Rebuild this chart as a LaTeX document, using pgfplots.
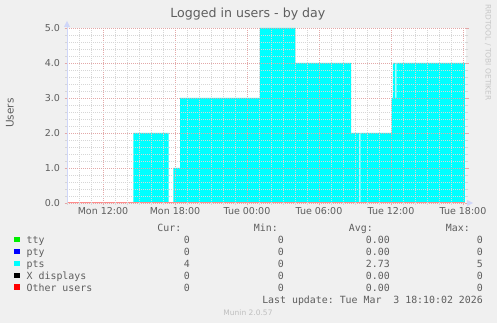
\documentclass[border=0pt]{standalone}
\usepackage{pgfplots}
\pgfplotsset{compat=1.18}
\usepackage{fontspec}
\setmainfont{DejaVu Sans}
\setmonofont{DejaVu Sans Mono}
\definecolor{bg}{HTML}{F0F0F0}
\definecolor{txt}{HTML}{5E5E5E}
\definecolor{majgrid}{HTML}{E3A8A8}
\definecolor{mingrid}{HTML}{D6D6D6}
\definecolor{axblue}{HTML}{CFD6F8}
\definecolor{ctty}{HTML}{00EE00}
\definecolor{cpty}{HTML}{0000FF}
\definecolor{cpts}{HTML}{00FFFF}
\definecolor{cx}{HTML}{000000}
\definecolor{cother}{HTML}{FF0000}
\tikzset{lg/.style={font=\ttfamily\fontsize{9.9}{11}\selectfont, text=txt, inner sep=0pt}}
\begin{document}
\begin{tikzpicture}[x=1pt,y=1pt]
\fill[bg] (0,0) rectangle (497,323);
\begin{axis}[
  at={(67pt,120pt)}, anchor=south west, scale only axis,
  width=399pt, height=175pt,
  xmin=9, xmax=42.25, ymin=0, ymax=5,
  axis background/.style={fill=white},
  axis on top,
  axis line style={draw=none},
  xtick={12,18,24,30,36,42},
  xticklabels={Mon 12:00,Mon 18:00,Tue 00:00,Tue 06:00,Tue 12:00,Tue 18:00},
  minor xtick={9,10,...,42},
  ytick={0,1,2,3,4,5},
  minor y tick num=4,
  grid=both,
  major grid style={draw=majgrid, dash pattern=on 1pt off 1pt, line width=0.8pt},
  minor grid style={draw=mingrid, dash pattern=on 1pt off 1pt, line width=0.8pt},
  tick align=outside,
  xtick pos=left, ytick pos=both,
  major tick length=2.5pt, minor tick length=2pt,
  every major tick/.append style={majgrid, line width=0.8pt},
  every minor tick/.append style={mingrid, line width=0.8pt},
  ticklabel style={font=\fontsize{9.5}{11}\selectfont, text=txt},
  /pgf/number format/assume math mode=true,
  y tick label style={/pgf/number format/fixed, /pgf/number format/fixed zerofill, /pgf/number format/precision=1, xshift=-1pt},
  x tick label style={anchor=base, yshift=-9pt},
  title={Logged in users - by day},
  title style={at={(axis description cs:0.4534,1.0229)}, anchor=base, font=\fontsize{12.6}{14}\selectfont, text=txt},
  ylabel={Users},
  ylabel style={at={(axis description cs:-0.1429,0.5143)}, anchor=center, font=\fontsize{10.5}{12}\selectfont, text=txt},
]
\addplot[fill=cpts, draw=none, const plot mark left] coordinates {
 (9,0) (14.53,2) (17.47,0) (17.86,1) (18.42,3) (25.08,5) (28.03,4)
 (32.67,2) (33.36,0) (33.44,2) (36.06,3) (36.15,4) (36.36,3) (36.44,4) (42.17,4)
} \closedcycle;
\addplot[ctty, line width=1.6pt] coordinates {(9,0) (42.17,0)};
\addplot[cpty, line width=1.6pt] coordinates {(9,0) (42.17,0)};
\addplot[cx, line width=1.6pt] coordinates {(9,0) (42.17,0)};
\addplot[cother!45!white, line width=1.6pt] coordinates {(9,0) (42.17,0)};
\end{axis}
% axis decoration
\draw[axblue, line width=1pt] (67,121) -- (67,297);
\fill[axblue] (64,296) -- (70,296) -- (67,302) -- cycle;
\fill[axblue] (467,117) -- (467,123) -- (473,120) -- cycle;
% watermark
\node[rotate=-90, font=\fontsize{7.5}{8}\selectfont, text=black!22, inner sep=0pt] at (488,270.5) {RRDTOOL / TOBI OETIKER};
% legend header
\node[lg, anchor=base east] at (181.5,91) {Cur:};
\node[lg, anchor=base east] at (278,91) {Min:};
\node[lg, anchor=base east] at (373,91) {Avg:};
\node[lg, anchor=base east] at (470,91) {Max:};
% rows
\foreach \yy/\col/\name/\cur/\mn/\av/\mx in {
  79.1/ctty/tty/0/0/0.00/0,
  67.2/cpty/pty/0/0/0.00/0,
  55.3/cpts/pts/4/0/2.73/5,
  43.4/cx/X displays/0/0/0.00/0,
  31.5/cother/Other users/0/0/0.00/0}{
  \fill[\col] (14,\yy+1.5) rectangle (19.5,\yy+7);
  \node[lg, anchor=base west] at (26.5,\yy) {\name};
  \node[lg, anchor=base east] at (190,\yy) {\cur};
  \node[lg, anchor=base east] at (284,\yy) {\mn};
  \node[lg, anchor=base east] at (390,\yy) {\av};
  \node[lg, anchor=base east] at (483,\yy) {\mx};
}
\node[lg, anchor=base east] at (483,19.6) {Last update: Tue Mar\ \ 3 18:10:02 2026};
\node[font=\fontsize{7.5}{8}\selectfont, text=black!25, anchor=base, inner sep=0pt] at (248,7.8) {Munin 2.0.57};
\end{tikzpicture}
\end{document}
